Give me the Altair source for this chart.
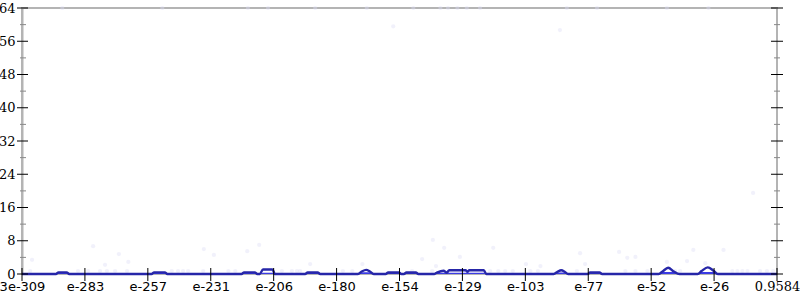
import json
import altair as alt
import pandas as pd

# ---- data -----------------------------------------------------------
x_labels = ["3e-309", "e-283", "e-257", "e-231", "e-206", "e-180", "e-154",
            "e-129", "e-103", "e-77", "e-52", "e-26", "0.9584"]
x_ticks = list(range(len(x_labels)))
y_major = [0, 8, 16, 24, 32, 40, 48, 56, 64]
y_minor = [4, 12, 20, 28, 36, 44, 52, 60]

line_x = [0.0, 0.54, 0.58, 0.71, 0.75, 2.06, 2.10, 2.27, 2.31, 3.49, 3.53, 3.70,
          3.74, 3.78, 3.83, 3.98, 4.02, 4.50, 4.54, 4.70, 4.74, 5.34, 5.40, 5.47,
          5.53, 5.59, 5.78, 5.82, 5.99, 6.03, 6.07, 6.11, 6.26, 6.30, 6.55, 6.59,
          6.70, 6.75, 6.79, 7.05, 7.08, 7.11, 7.34, 7.38, 8.45, 8.51, 8.57, 8.63,
          8.68, 8.99, 9.03, 9.18, 9.22, 10.12, 10.18, 10.27, 10.36, 10.45, 10.74,
          10.80, 10.90, 10.99, 11.06, 12.0]
line_y = [0, 0, 0.4, 0.4, 0, 0, 0.4, 0.4, 0, 0, 0.4, 0.4,
          0, 0, 1.1, 1.1, 0, 0, 0.35, 0.35, 0, 0, 0.6, 1.0,
          0.6, 0, 0, 0.35, 0.35, 0, 0, 0.35, 0.35, 0, 0, 0.3,
          0.8, 0.3, 0.9, 0.9, 0.5, 0.9, 0.9, 0, 0, 0.5, 0.9, 0.5,
          0, 0, 0.35, 0.35, 0, 0, 0.6, 1.5, 0.6, 0, 0,
          0.7, 1.6, 0.8, 0, 0]
fill_y = [0, 0, 0.4, 0.4, 0, 0, 0.4, 0.4, 0, 0, 0.4, 0.4,
          0, 0, 0.3, 0.3, 0, 0, 0.35, 0.35, 0, 0, 0.4, 0.4,
          0.4, 0, 0, 0.35, 0.35, 0, 0, 0.35, 0.35, 0, 0, 0.3,
          0.3, 0.3, 0.3, 0.3, 0.3, 0.3, 0.3, 0, 0, 0.35, 0.35, 0.35,
          0, 0, 0.35, 0.35, 0, 0, 0.5, 0.5, 0.5, 0, 0,
          0.5, 0.5, 0.5, 0, 0]

dot_x = [0.89, 1.05, 1.24, 1.35, 1.48, 1.67, 2.38, 2.48, 2.56, 2.64, 2.88, 3.28,
         3.39, 4.13, 4.29, 4.37, 4.42, 5.10, 5.25, 6.20, 6.52, 7.44, 7.57, 7.68,
         7.80, 8.08, 8.20, 8.82, 9.59, 9.75, 9.94, 10.38, 10.46, 11.29, 11.37,
         11.45, 11.53, 11.73, 11.84, 11.94,
         0.16, 0.13, 1.13, 1.54, 1.69, 1.32, 2.89, 3.05, 3.58, 3.77, 4.58, 5.41,
         6.53, 6.71, 6.36, 6.96, 6.58, 7.49, 8.01, 8.24, 8.87, 8.95, 9.49, 9.62,
         9.75, 10.25, 10.57, 10.67, 10.86, 11.15, 11.62, 5.90, 8.55,
         0.64, 2.23, 3.59, 3.91, 4.66, 5.48, 6.22, 6.65, 6.77, 6.92, 7.07, 7.28,
         8.66, 9.14, 10.25, 10.91]
dot_y = [0.7] * 40 + [
         3.4, 0.7, 6.7, 4.8, 2.9, 2.2, 6.0, 4.6, 5.5, 7.0, 2.4, 2.4,
         8.2, 6.3, 3.6, 4.1, 1.9, 6.3, 2.4, 1.9, 5.0, 2.4, 5.3, 3.9,
         4.1, 2.9, 3.1, 5.8, 2.6, 5.8, 19.5, 59.6, 58.7] + [64] * 16

# ---- tables ---------------------------------------------------------
line_df = pd.DataFrame({"x": line_x, "y": line_y})
fill_df = pd.DataFrame({"x": line_x, "y": fill_y})
dots = pd.DataFrame({"x": dot_x, "y": dot_y})
major = pd.DataFrame({"y": y_major})
minor = pd.DataFrame({"y": y_minor})
xt = pd.DataFrame({"x": x_ticks})

W, H = 755, 266
xscale = alt.Scale(domain=[0, len(x_labels) - 1], nice=False, zero=False)
yscale = alt.Scale(domain=[0, 64], nice=False)

label_expr = json.dumps(x_labels) + "[datum.value]"
xaxis = alt.Axis(values=x_ticks, labelExpr=label_expr, domain=False, ticks=False,
                 grid=False, labelPadding=6, labelFontSize=13, labelColor="black",
                 labelFont={"condition": {"test": "datum.value == 12", "value": "DejaVu Serif"},
                            "value": "DejaVu Sans"},
                 labelFlush=False, labelOverlap=False, title=None)
yaxis = alt.Axis(values=y_major, domain=True, domainColor="#b4b4b4", domainWidth=2,
                 ticks=False, grid=False, labelPadding=7, labelFontSize=13,
                 labelFont="DejaVu Serif", labelColor="black", title=None)

X = alt.X("x:Q", scale=xscale, axis=xaxis)
Y = alt.Y("y:Q", scale=yscale, axis=yaxis)

pts = alt.Chart(dots).mark_circle(size=18, color="#dcdcf4", opacity=0.4).encode(x=X, y=Y)
area = alt.Chart(fill_df).mark_area(color="#3b3be4", interpolate="monotone").encode(x=X, y=Y)
line = alt.Chart(line_df).mark_line(color="#2626a8", strokeWidth=2.4,
                                    interpolate="monotone").encode(x=X, y=Y)

lmaj = alt.Chart(major).mark_rule(color="black", strokeWidth=1).encode(
    y=Y, x=alt.value(-5), x2=alt.value(6))
lmin = alt.Chart(minor).mark_rule(color="#888888", strokeWidth=1).encode(
    y=Y, x=alt.value(-2), x2=alt.value(4))
rmaj = alt.Chart(major).mark_rule(color="black", strokeWidth=1).encode(
    y=Y, x=alt.value(W - 6), x2=alt.value(W + 6))
rmin = alt.Chart(minor).mark_rule(color="#888888", strokeWidth=1).encode(
    y=Y, x=alt.value(W - 3), x2=alt.value(W + 3))
xtk = alt.Chart(xt).mark_rule(color="black", strokeWidth=1).encode(
    x=X, y=alt.value(H - 6), y2=alt.value(H + 7))

chart = alt.layer(pts, area, line, lmaj, lmin, rmaj, rmin, xtk).properties(
    width=W, height=H, autosize="none",
    padding={"left": 22, "top": 8, "right": 23, "bottom": 26},
    background="white",
).configure_view(stroke="#b4b4b4", strokeWidth=2)

chart.save("out.html", embed_options={"renderer": "svg", "actions": False})
